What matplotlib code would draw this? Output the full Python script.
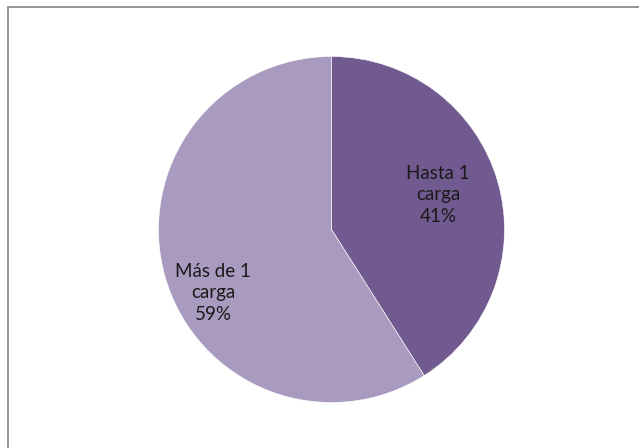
import matplotlib
matplotlib.use("Agg")
import matplotlib.pyplot as plt
from matplotlib.patches import Rectangle

labels = ["Hasta 1\ncarga\n41%", "Más de 1\ncarga\n59%"]
values = [41, 59]
colors = ["#705A8F", "#A99BBF"]
label_pos = [(0.616, 0.20), (-0.685, -0.367)]

W, H = 639, 448
fig = plt.figure(figsize=(W/100, H/100), dpi=100)
fig.patch.set_facecolor("white")

# frame
fig.patches.append(Rectangle((8/W, -0.1), 1.2, 1 - 7/H + 0.1, transform=fig.transFigure,
                             fill=False, edgecolor="#8c8c8c", linewidth=1.3))

cx, cy, r = 331.5, 229.5, 173
ax = fig.add_axes([(cx - r)/W, (H - cy - r)/H, 2*r/W, 2*r/H])
wedges, _ = ax.pie(values, colors=colors, startangle=90, counterclock=False, radius=1,
                   wedgeprops=dict(edgecolor="white", linewidth=0.4))
ax.set_xlim(-1, 1)
ax.set_ylim(-1, 1)
ax.set_aspect("auto")
ax.axis("off")
for lab, (x, y) in zip(labels, label_pos):
    ax.text(x, y, lab, ha="center", va="center", fontsize=13.5, family="Lato",
            color="#1a1a1a", linespacing=1.3)

fig.savefig("out.png", dpi=100)
